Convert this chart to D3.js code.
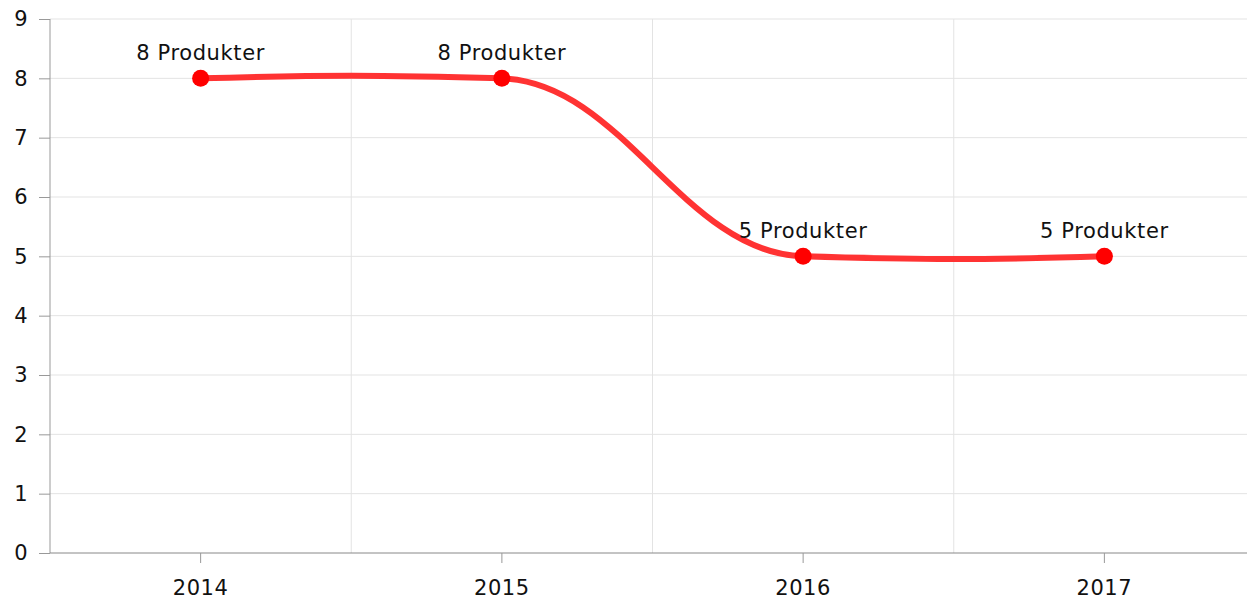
<!DOCTYPE html>
<html lang="en">
<head>
    <meta charset="UTF-8">
    <title>Produkter</title>
    <script src="https://d3js.org/d3.v7.min.js"></script>
    <style>
        body { margin: 0; background: #fff; }
        text { font-family: "DejaVu Sans", Verdana, sans-serif; }
    </style>
</head>
<body>
    <svg id="chart" width="1247" height="600"></svg>
    <script>
        // data
        const years = ["2014", "2015", "2016", "2017"];
        const counts = [8, 8, 5, 5];
        const pointLabels = ["8 Produkter", "8 Produkter", "5 Produkter", "5 Produkter"];
        const yTicks = [0, 1, 2, 3, 4, 5, 6, 7, 8, 9];

        const margin = { top: 19, right: 0, bottom: 47, left: 50 };
        const width = 1247, height = 600;
        const plotH = height - margin.top - margin.bottom;
        const fs = 21;

        // soft spline: long x handles, small y slopes, mirrored ends
        function softCurve(context) {
            let pts;
            return {
                areaStart() {}, areaEnd() {},
                lineStart() { pts = []; },
                point(x, y) { pts.push([+x, +y]); },
                lineEnd() {
                    const n = pts.length;
                    if (!n) return;
                    context.moveTo(pts[0][0], pts[0][1]);
                    if (n < 3) { pts.slice(1).forEach(p => context.lineTo(p[0], p[1])); return; }
                    const c = 0.02, k = 0.4;
                    const dy = pts.map((p, i) => (i > 0 && i < n - 1) ? c * (pts[i + 1][1] - pts[i - 1][1]) : 0);
                    dy[0] = -dy[1];
                    dy[n - 1] = -dy[n - 2];
                    for (let i = 0; i < n - 1; i++) {
                        const a = pts[i], b = pts[i + 1], w = b[0] - a[0];
                        context.bezierCurveTo(a[0] + k * w, a[1] + dy[i], b[0] - k * w, b[1] - dy[i + 1], b[0], b[1]);
                    }
                }
            };
        }

        const svg = d3.select("#chart");
        const g = svg.append("g").attr("transform", `translate(${margin.left},${margin.top})`);

        const x = d3.scaleBand().domain(years).range([0, 1205]).padding(0);
        const y = d3.scaleLinear().domain([0, 9]).range([plotH, 0]);

        // grid lines
        g.append("g").selectAll("line.h")
            .data(yTicks.filter(d => d > 0))
            .enter().append("line")
            .attr("x1", 0).attr("x2", width)
            .attr("y1", d => y(d)).attr("y2", d => y(d))
            .attr("stroke", "#e3e3e3").attr("stroke-width", 1);

        g.append("g").selectAll("line.v")
            .data(years.slice(1))
            .enter().append("line")
            .attr("x1", d => x(d)).attr("x2", d => x(d))
            .attr("y1", 0).attr("y2", plotH)
            .attr("stroke", "#e3e3e3").attr("stroke-width", 1);

        // axes
        const yAxis = g.append("g")
            .call(d3.axisLeft(y).tickValues(yTicks).tickSize(11).tickPadding(11));
        yAxis.select(".domain").attr("stroke", "#999").attr("d", `M0,${plotH}V0`);
        yAxis.selectAll(".tick line").attr("stroke", "#999");
        yAxis.selectAll("text").attr("font-size", fs).attr("fill", "#111")
            .attr("letter-spacing", 0.5)
            .attr("font-family", "'DejaVu Sans', Verdana, sans-serif");

        const xAxis = g.append("g")
            .attr("transform", `translate(0,${plotH})`)
            .call(d3.axisBottom(x).tickSize(10).tickPadding(17));
        xAxis.select(".domain").attr("stroke", "#888").attr("d", `M0,0H${width}`);
        xAxis.selectAll(".tick line").attr("stroke", "#999");
        xAxis.selectAll("text").attr("font-size", fs).attr("fill", "#111")
            .attr("letter-spacing", 0.6)
            .attr("font-family", "'DejaVu Sans', Verdana, sans-serif");

        const cx = d => x(d) + x.bandwidth() / 2;
        const pts = years.map((yr, i) => ({ yr, v: counts[i], label: pointLabels[i] }));

        // line
        const line = d3.line()
            .x(d => cx(d.yr))
            .y(d => y(d.v))
            .curve(softCurve);

        g.append("path")
            .datum(pts)
            .attr("d", line)
            .attr("fill", "none")
            .attr("stroke", "#ff3333")
            .attr("stroke-width", 6);

        g.selectAll("circle.pt")
            .data(pts)
            .enter().append("circle")
            .attr("cx", d => cx(d.yr))
            .attr("cy", d => y(d.v))
            .attr("r", 8.5)
            .attr("fill", "#ff0000");

        g.selectAll("text.lbl")
            .data(pts)
            .enter().append("text")
            .attr("x", d => cx(d.yr))
            .attr("y", d => y(d.v) - 18)
            .attr("text-anchor", "middle")
            .attr("font-size", fs)
            .attr("letter-spacing", 0.6)
            .attr("fill", "#111")
            .text(d => d.label);
    </script>
</body>
</html>
